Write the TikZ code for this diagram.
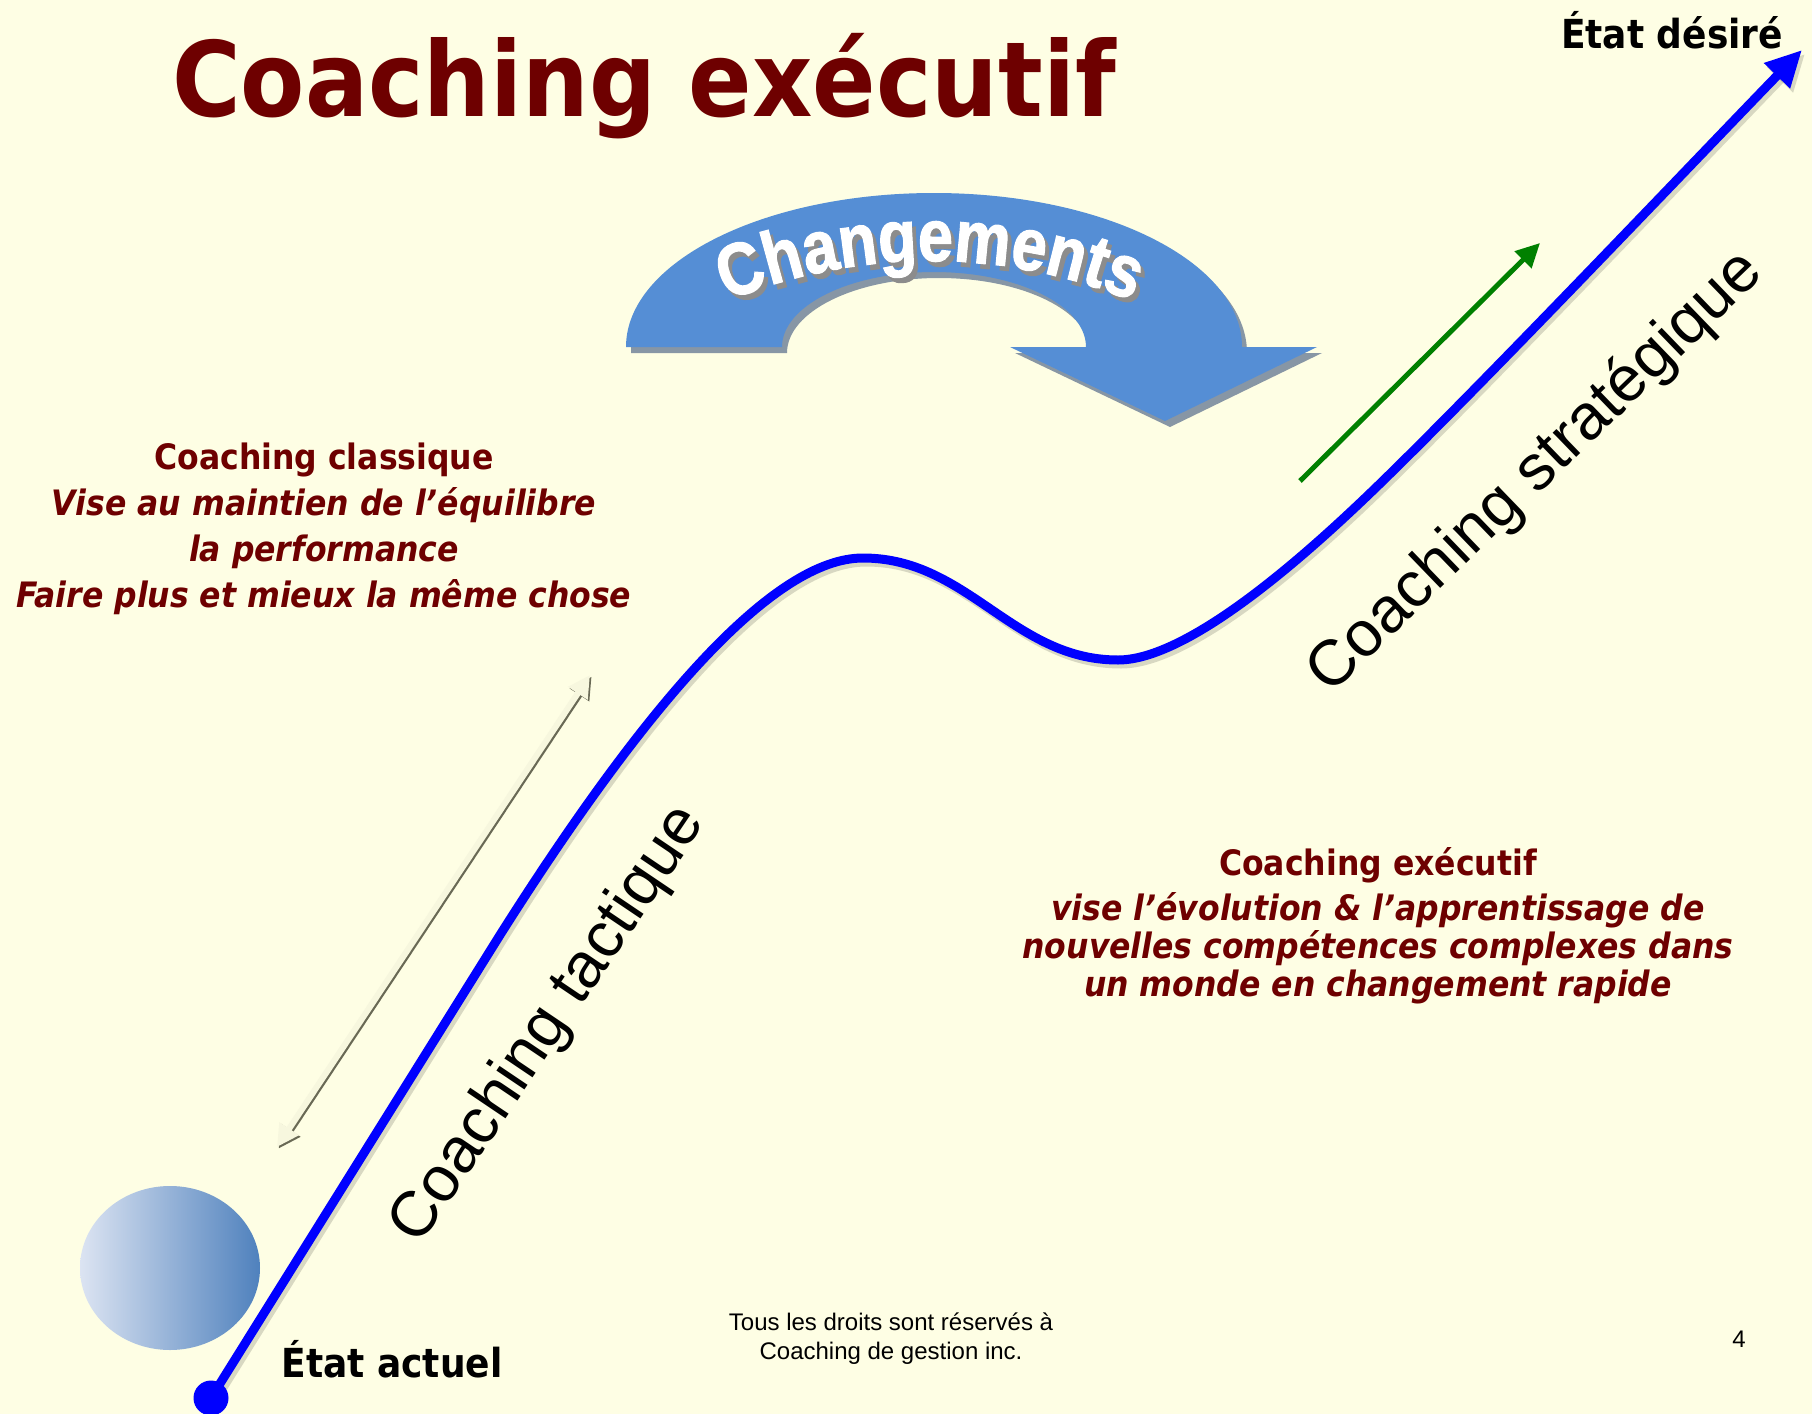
\documentclass[tikz,border=0pt]{standalone}
\usepackage{fontspec}
\usetikzlibrary{arrows.meta,decorations.text}
\setmainfont{Liberation Sans}
\newfontfamily\tahoma[FakeStretch=0.9]{DejaVu Sans}
\newfontfamily\arialf{Liberation Sans}
\newfontfamily\heavy[FakeStretch=0.85,BoldFeatures={FakeBold=1.5}]{Liberation Sans}
\definecolor{bg}{RGB}{254,254,228}
\definecolor{darkred}{RGB}{110,0,0}
\definecolor{chgblue}{RGB}{85,142,213}
\definecolor{chgshadow}{RGB}{135,150,165}
\definecolor{cream}{RGB}{247,247,222}
\definecolor{creamshadow}{RGB}{105,105,85}
\definecolor{ellL}{RGB}{220,228,242}
\definecolor{ellR}{RGB}{79,129,189}
\definecolor{grn}{RGB}{0,128,0}
\begin{document}
\begin{tikzpicture}[x=0.5pt,y=0.5pt,
  lbl/.style={font=\tahoma\bfseries\fontsize{20}{24}\selectfont, text=black, inner sep=0pt},
  blkbold/.style={font=\tahoma\bfseries\fontsize{17.5}{21}\selectfont, text=darkred, inner sep=0pt},
  blkital/.style={font=\tahoma\bfseries\itshape\fontsize{17.5}{21}\selectfont, text=darkred, inner sep=0pt},
  rotlbl/.style={font=\arialf\fontsize{32}{38}\selectfont, text=black, inner sep=0pt},
  footlbl/.style={font=\arialf\fontsize{12}{14}\selectfont, text=black, inner sep=0pt},
  bluecurve/.style={blue, line width=4.5pt, -{Triangle[length=18pt,width=17pt]}},
  greenarrow/.style={grn, line width=2.5pt, -{Triangle[length=12pt,width=11.5pt]}},
  creamarrow/.style={line width=3pt, {Triangle[length=11pt,width=11pt]}-{Triangle[length=11pt,width=11pt]}}
]
\useasboundingbox (0,0) rectangle (1812,-1414);
\fill[bg] (0,0) rectangle (1812,-1414);

% Title
\node[anchor=base, text=darkred, inner sep=0pt, font=\tahoma\bfseries\fontsize{52}{60}\selectfont] (title) at (644,-116) {Coaching exécutif};

% Changements curved arrow
\begin{scope}[shift={(5,-6)}]
\fill[chgshadow] (626,-347) arc[start angle=180,end angle=0,x radius=308,y radius=154]
  -- (1317,-347) -- (1165,-421) -- (1010,-347) -- (1086,-347)
  arc[start angle=0,end angle=180,x radius=152,y radius=75] -- cycle;
\end{scope}
\fill[chgblue] (626,-347) arc[start angle=180,end angle=0,x radius=308,y radius=154]
  -- (1317,-347) -- (1165,-421) -- (1010,-347) -- (1086,-347)
  arc[start angle=0,end angle=180,x radius=152,y radius=75] -- cycle;
\path[decorate, decoration={text along path, text align=center,
  text={|\color{black!45}\heavy\bfseries\fontsize{37}{37}\selectfont|Changements}}]
  (934,-799) ++(125:533) arc[start angle=125, end angle=55, radius=533];
\path[decorate, decoration={text along path, text align=center,
  text={|\color{white}\heavy\bfseries\fontsize{37}{37}\selectfont|Changements}}]
  (930,-794) ++(125:533) arc[start angle=125, end angle=55, radius=533];

% Ellipse
\shade[left color=ellL, right color=ellR] (170,-1268) ellipse[x radius=90, y radius=82];

% Blue curve
\coordinate (s) at (211,-1398);
\coordinate (l) at (500,-935);
\coordinate (p) at (863,-558);
\coordinate (t) at (1118,-660);
\coordinate (m) at (1363,-500);
\coordinate (e) at (1802,-50);
\draw[bluecurve, black, opacity=0.15, transform canvas={shift={(1.5pt,-2pt)}}] (s) -- (l) .. controls (650,-698) and (775,-558) .. (p)
  .. controls (968,-558) and (1013,-660) .. (t)
  .. controls (1188,-660) and (1303,-557) .. (m)
  .. controls (1463,-405) and (1702,-153) .. (e);
\draw[bluecurve] (s) -- (l) .. controls (650,-698) and (775,-558) .. (p)
  .. controls (968,-558) and (1013,-660) .. (t)
  .. controls (1188,-660) and (1303,-557) .. (m)
  .. controls (1463,-405) and (1702,-153) .. (e);
\fill[blue] (s) circle[radius=17.5];

% Green arrow
\coordinate (g1) at (1300,-481);
\coordinate (g2) at (1540,-243);
\draw[greenarrow] (g1) -- (g2);

% Cream double arrow
\coordinate (d1) at (277,-1147);
\coordinate (d2) at (590,-675);
\draw[creamarrow, creamshadow, transform canvas={shift={(0.8pt,-0.8pt)}}] (d1) -- (d2);
\draw[creamarrow, cream] (d1) -- (d2);

% Labels
\node[lbl, anchor=base] (etatactuel) at (392,-1377) {État actuel};
\node[lbl, anchor=base] (etatdesire) at (1672,-48) {État désiré};
\node[rotlbl, rotate=56] (tact) at (549,-1025) {Coaching tactique};
\node[rotlbl, rotate=44] (strat) at (1536,-473) {Coaching stratégique};

% Left text block
\node[blkbold, anchor=base] (cl1) at (324,-469) {Coaching classique};
\node[blkital, anchor=base] (cl2) at (324,-515) {Vise au maintien de l’équilibre};
\node[blkital, anchor=base] (cl3) at (324,-561) {la performance};
\node[blkital, anchor=base] (cl4) at (324,-607) {Faire plus et mieux la même chose};

% Right text block
\node[blkbold, anchor=base] (ex1) at (1378,-875) {Coaching exécutif};
\node[blkital, anchor=base] (ex2) at (1378,-920) {vise l’évolution \& l’apprentissage de};
\node[blkital, anchor=base] (ex3) at (1378,-958) {nouvelles compétences complexes dans};
\node[blkital, anchor=base] (ex4) at (1378,-996) {un monde en changement rapide};

% Footer
\node[footlbl, anchor=base] (f1) at (891,-1330) {Tous les droits sont réservés à};
\node[footlbl, anchor=base] (f2) at (891,-1359) {Coaching de gestion inc.};
\node[footlbl, anchor=base] (pg) at (1739,-1347) {4};
\end{tikzpicture}
\end{document}
